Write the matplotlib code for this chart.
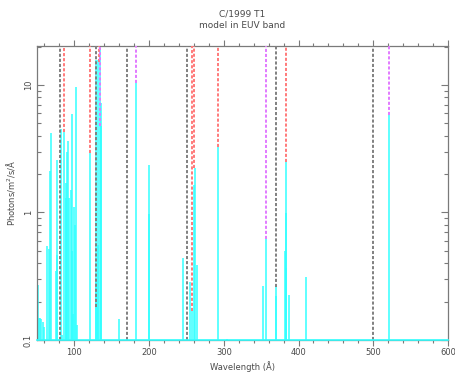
import matplotlib

matplotlib.use("Agg")
import matplotlib.pyplot as plt
from matplotlib.ticker import FixedLocator, NullFormatter

# model line spectrum (wavelength in A, flux in photons/m2/s/A)
line_wave = [50.5, 51.5, 53.0, 54.5, 56.0, 57.5, 59.0, 63.5, 65.5, 67.8, 68.3,
             75.0, 76.3, 77.2, 81.7, 83.0, 86.1, 88.4, 89.2, 89.7, 91.5, 92.5,
             95.0, 96.4, 97.5, 98.0, 100.2, 101.0, 102.6, 103.5, 121.0, 129.0,
             129.4, 130.3, 131.3, 132.0, 134.3, 135.5, 136.0, 159.3, 182.5,
             199.5, 200.3, 245.8, 254.7, 257.8, 260.4, 261.4, 264.3, 292.6,
             303.8, 352.8, 356.0, 369.5, 370.0, 381.4, 382.8, 383.2, 383.8,
             387.6, 410.0, 520.6]
line_flux = [0.28, 0.27, 0.15, 0.15, 0.145, 0.138, 0.127, 0.55, 0.52, 2.1, 4.2,
             0.35, 2.6, 0.46, 4.5, 0.11, 4.3, 1.7, 1.3, 3.0, 3.66, 1.3,
             1.5, 5.9, 0.5, 0.16, 1.1, 0.8, 9.6, 0.13, 2.9, 0.3,
             15.7, 0.18, 15.7, 0.56, 25.0, 7.2, 4.8, 0.146, 10.3,
             0.97, 2.36, 0.44, 0.285, 0.17, 1.64, 2.22, 0.39, 3.28,
             0.102, 0.265, 0.616, 0.22, 0.26, 0.5, 2.5, 0.99, 0.366,
             0.225, 0.31, 5.8]

# line identifications: position and level where the marker stops
id_gray_wave = [81.0, 128.5, 170.0, 251.0, 369.8, 500.0]
id_gray_floor = [0.1, 0.18, 0.1, 0.1, 0.26, 0.1]
id_red_wave = [86.1, 121.0, 132.5, 257.8, 260.4, 292.6, 382.8]
id_red_floor = [4.3, 2.9, 15.0, 0.17, 2.22, 3.28, 2.5]
id_mag_wave = [134.3, 182.5, 356.0, 520.6]
id_mag_floor = [4.8, 10.3, 0.616, 5.8]

X_MIN, X_MAX = 50, 600
Y_MIN, Y_MAX = 0.1, 20.2

TXT = "#4a4a4a"
AXC = "#7a7a7a"
CYAN = "#33ffff"

plt.rcParams.update({
    "font.family": "DejaVu Sans",
    "font.size": 6,
    "text.color": TXT,
    "axes.labelcolor": TXT,
    "xtick.color": AXC,
    "ytick.color": AXC,
    "xtick.labelcolor": TXT,
    "ytick.labelcolor": TXT,
})

fig = plt.figure(figsize=(4.56, 3.73), dpi=100)
ax = fig.add_axes([0.0811, 0.0885, 0.9014, 0.7882])
ax.set_yscale("log")

ax.vlines(line_wave, Y_MIN, line_flux, color=CYAN, lw=1.1, zorder=2)
ax.axhline(Y_MIN, color=CYAN, lw=1.2, zorder=5, clip_on=False)

dash = (0, (1.6, 1.0))
ax.vlines(id_gray_wave, id_gray_floor, Y_MAX, color="#808080", lw=1.4,
          linestyles=[dash], zorder=3)
ax.vlines(id_red_wave, id_red_floor, Y_MAX, color="#ff7a7a", lw=1.4,
          linestyles=[dash], zorder=3)
ax.vlines(id_mag_wave, id_mag_floor, Y_MAX, color="#e27aff", lw=1.4,
          linestyles=[dash], zorder=3)

ax.set_xlim(X_MIN, X_MAX)
ax.set_ylim(Y_MIN, Y_MAX)

ax.xaxis.set_major_locator(FixedLocator([100, 200, 300, 400, 500, 600]))
ax.xaxis.set_minor_locator(FixedLocator(range(60, 600, 20)))
ax.yaxis.set_major_locator(FixedLocator([0.1, 1, 10]))
ax.yaxis.set_minor_locator(FixedLocator(
    [m * d for d in (0.1, 1, 10) for m in range(2, 10)]))
ax.yaxis.set_minor_formatter(NullFormatter())
ax.set_yticklabels(["0.1", "1", "10"], rotation=90, va="center")

ax.tick_params(axis="x", which="both", direction="out", top=True, width=0.8)
ax.tick_params(axis="x", which="major", length=4, pad=2)
ax.tick_params(axis="x", which="minor", length=2)
ax.tick_params(axis="y", which="both", direction="in", right=True, width=0.8)
ax.tick_params(axis="y", which="major", length=5, pad=3)
ax.tick_params(axis="y", which="minor", length=3)

for sp in ax.spines.values():
    sp.set_color(AXC)
    sp.set_linewidth(0.9)

ax.set_xlabel("Wavelength (Å)", labelpad=3)
ax.set_ylabel("Photons/m$^2$/s/Å", labelpad=5)
ax.set_title("C/1999 T1\nmodel in EUV band", fontsize=6.5, color=TXT,
             linespacing=1.3, pad=13)

fig.savefig("out.png", dpi=100)
